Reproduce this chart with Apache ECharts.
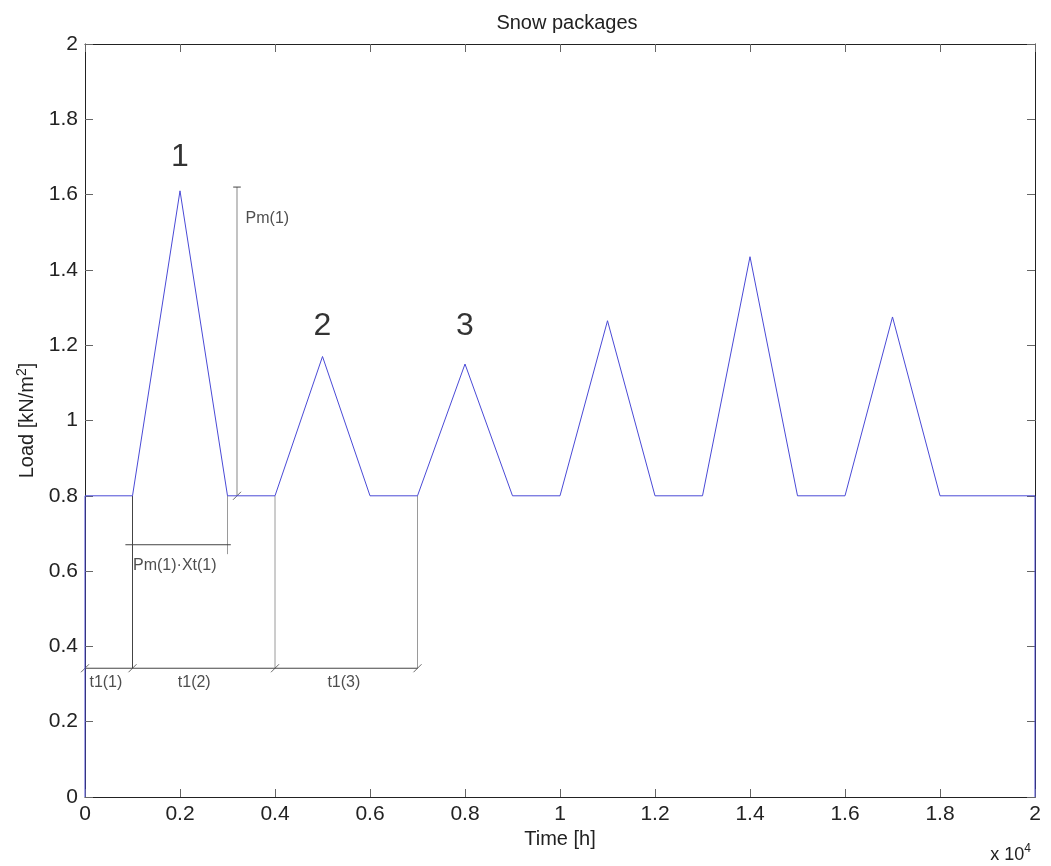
<!DOCTYPE html>
<html><head><meta charset="utf-8">
<script src="https://cdn.jsdelivr.net/npm/echarts@6/dist/echarts.min.js"></script>
<style>html,body{margin:0;padding:0;background:#fff}#c{width:1051px;height:866px}</style>
</head><body><div id="c"></div>
<script>
// Load curve (time in hours, load in kN/m2)
const timeH = [0, 0, 1000, 2000, 3000, 4000, 5000, 6000, 7000, 8000, 9000, 10000, 11000, 12000, 13000, 14000, 15000, 16000, 17000, 18000, 20000, 20000];
const loadKN = [0, 0.8, 0.8, 1.61, 0.8, 0.8, 1.17, 0.8, 0.8, 1.15, 0.8, 0.8, 1.265, 0.8, 0.8, 1.435, 0.8, 0.8, 1.275, 0.8, 0.8, 0];
const xTicks = [0, 0.2, 0.4, 0.6, 0.8, 1, 1.2, 1.4, 1.6, 1.8, 2];
const yTicks = [0, 0.2, 0.4, 0.6, 0.8, 1, 1.2, 1.4, 1.6, 1.8, 2];
// Package numbers
const pkgLabels = ['1', '2', '3'];
const pkgX = [2000, 5000, 8000];
const pkgY = [1.70, 1.25, 1.25];
// Annotation: Pm(1) dimension
const pmX = [3200, 3200];
const pmY = [0.8, 1.62];
const pmCapX = [3120, 3280];
// Annotation: Pm(1)·Xt(1) dimension
const pxtX = [850, 3070];
const pxtY = [0.67, 0.67];
// Annotation: t1 dimension line
const t1Marks = [0, 1000, 4000, 7000];
const t1Level = 0.342;
const t1Names = ['t1(1)', 't1(2)', 't1(3)'];
const t1LabelX = [440, 2300, 5450];

const blue = '#4a4ad6';
const gray = '#9a9a9a';
const dark = '#444';
const font = 'Liberation Sans, Arial, sans-serif';
const slash = 'path://M0,10 L10,0';
const strokeStyle = {color: 'none', borderColor: dark, borderWidth: 1};

const mainData = timeH.map((t, i) => [t, loadKN[i]]);
const series = [];
series.push({type: 'line', data: mainData, symbol: 'none', lineStyle: {color: blue, width: 1}, z: 5, silent: true});

// vertical extension lines
const ext = [
  {x: 1000, y0: 0.8, y1: t1Level, c: dark},
  {x: 3000, y0: 0.8, y1: 0.645, c: gray},
  {x: 4000, y0: 0.8, y1: t1Level, c: gray},
  {x: 7000, y0: 0.8, y1: t1Level, c: gray}
];
ext.forEach(e => series.push({type: 'line', data: [[e.x, e.y0], [e.x, e.y1]], symbol: 'none', lineStyle: {color: e.c, width: 1}, silent: true, z: 3}));

// Pm(1) vertical arrow
series.push({type: 'line', data: pmX.map((x, i) => [x, pmY[i]]), symbol: 'none', lineStyle: {color: gray, width: 1.2}, silent: true, z: 3});
series.push({type: 'line', data: pmCapX.map(x => [x, pmY[1]]), symbol: 'none', lineStyle: {color: dark, width: 1}, silent: true, z: 3});
series.push({type: 'scatter', data: [[pmX[0], pmY[0]]], symbol: slash, symbolSize: 8, itemStyle: strokeStyle, silent: true, z: 4});

// Pm(1)·Xt(1) horizontal
series.push({type: 'line', data: pxtX.map((x, i) => [x, pxtY[i]]), symbol: 'none', lineStyle: {color: dark, width: 1}, silent: true, z: 3});

// t1 dimension
series.push({type: 'line', data: t1Marks.map(x => [x, t1Level]), symbol: 'none', lineStyle: {color: dark, width: 1}, silent: true, z: 3});
series.push({type: 'scatter', data: t1Marks.map(x => [x, t1Level]), symbol: slash, symbolSize: 8, itemStyle: strokeStyle, silent: true, z: 4});

// text labels as scatter
function textSeries(pts, size, color) {
  return {type: 'scatter', symbolSize: 0, silent: true, z: 6,
    data: pts.map(p => ({value: [p.x, p.y], label: {show: true, formatter: p.t, position: 'inside', fontSize: size, color: color, fontFamily: font, align: p.align || 'center'}}))};
}
series.push(textSeries(pkgLabels.map((t, i) => ({x: pkgX[i], y: pkgY[i], t})), 32, '#000'));
series.push(textSeries([
  {x: 3380, y: 1.535, t: 'Pm(1)', align: 'left'},
  {x: 1890, y: 0.615, t: 'Pm(1)·Xt(1)'}
].concat(t1Names.map((t, i) => ({x: t1LabelX[i], y: 0.305, t}))), 16, '#222'));

const chart = echarts.init(document.getElementById('c'), null, {renderer: 'canvas'});
const axisLine = {show: true, onZero: false, lineStyle: {color: '#222', width: 1}};
const tick = {show: true, inside: true, length: 8, lineStyle: {color: '#666'}};
chart.setOption({
  backgroundColor: '#fff',
  animation: false,
  title: {text: 'Snow packages', left: 562, top: 8, textAlign: 'center', textStyle: {fontSize: 20, fontWeight: 'normal', color: '#222', fontFamily: font}},
  grid: {left: 85, right: 16, top: 44, bottom: 69, show: false},
  xAxis: [
    {type: 'value', min: 0, max: 20000, interval: 2000, position: 'bottom',
      axisLine, axisTick: tick, splitLine: {show: false},
      axisLabel: {fontSize: 21, color: '#222', fontFamily: font, margin: 7, formatter: v => String(xTicks[Math.round(v / 2000)])},
      name: 'Time [h]', nameLocation: 'middle', nameGap: 31, nameTextStyle: {fontSize: 20, color: '#222', fontFamily: font}},
    {type: 'value', min: 0, max: 20000, interval: 2000, position: 'top',
      axisLine, axisTick: tick, axisLabel: {show: false}, splitLine: {show: false}}
  ],
  yAxis: [
    {type: 'value', min: 0, max: 2, interval: 0.2, position: 'left',
      axisLine, axisTick: tick, splitLine: {show: false},
      axisLabel: {fontSize: 21, color: '#222', fontFamily: font, margin: 7, formatter: v => String(yTicks[Math.round(v / 0.2)])},
      name: 'Load [kN/m{sup|2}]', nameLocation: 'middle', nameGap: 44, nameRotate: 90,
      nameTextStyle: {fontSize: 20, color: '#222', fontFamily: font, rich: {sup: {fontSize: 14, verticalAlign: 'top', padding: [0, 0, 12, 0], color: '#222', fontFamily: font}}}},
    {type: 'value', min: 0, max: 2, interval: 0.2, position: 'right',
      axisLine, axisTick: tick, axisLabel: {show: false}, splitLine: {show: false}}
  ],
  graphic: [{type: 'text', right: 20, bottom: 2, style: {text: 'x 10{sup|4}', fontSize: 18, fill: '#222', fontFamily: font,
    rich: {sup: {fontSize: 12, padding: [0, 0, 12, 0], fill: '#222', fontFamily: font}}}}],
  series: series
});
</script></body></html>
